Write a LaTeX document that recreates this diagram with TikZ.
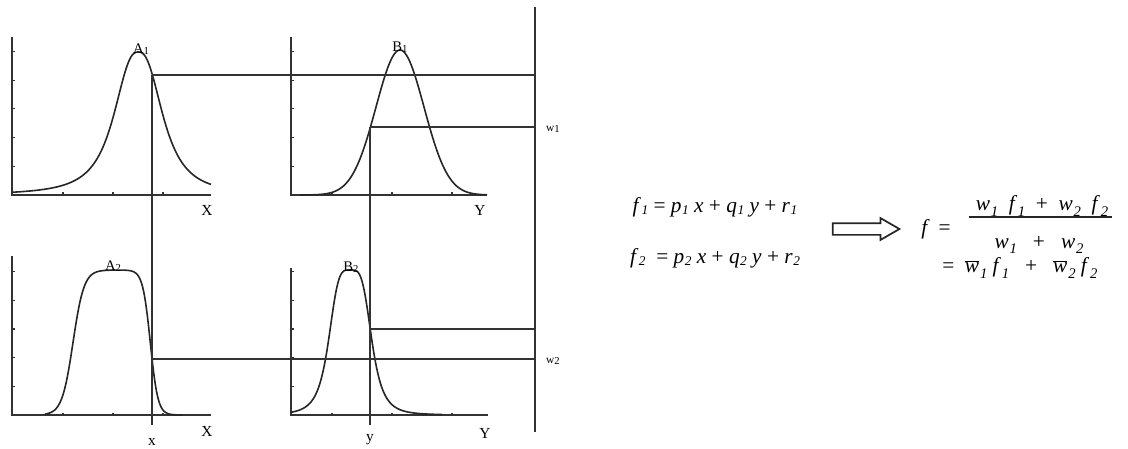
\documentclass[tikz,border=0pt]{standalone}
\usepackage{fontspec}
\setmainfont{Liberation Serif}
\usetikzlibrary{positioning,shapes.arrows}

\newcommand{\ssub}[1]{\raisebox{-0.25ex}{\fontsize{8}{8}\selectfont #1}}
\newcommand{\iv}[2]{\textit{#1}\kern0.4pt\raisebox{-0.25ex}{\fontsize{10}{10}\selectfont\textit{#2}}}
\newcommand{\lv}[2]{\textit{#1}\kern0.6pt\raisebox{-0.6ex}{\fontsize{11}{11}\selectfont\textit{#2}}}
\newcommand{\wb}[1]{$\overline{\mbox{\textit{w}}}$\kern0.6pt\raisebox{-0.6ex}{\fontsize{11}{11}\selectfont\textit{#1}}}

\begin{document}
\begin{tikzpicture}[x=0.75pt,y=-0.75pt,
    axis/.style={line width=0.9pt, black!80},
    curve/.style={line width=1.2pt, black!85},
    guide/.style={line width=0.9pt, black!80},
    setname/.style={font=\fontsize{11}{12}\selectfont, inner sep=0pt, anchor=south},
    varname/.style={font=\fontsize{11.5}{12}\selectfont, inner sep=0pt},
    wname/.style={font=\fontsize{8.5}{9}\selectfont, inner sep=0pt},
    eq/.style={font=\fontsize{16}{18}\selectfont, inner sep=0pt},
    fracbar/.style={line width=1pt, black!85},
    implies/.style={single arrow, draw=black!85, line width=1.3pt, minimum height=50pt, minimum width=15pt, inner sep=3.75pt, single arrow head extend=3.75pt, single arrow tip angle=60}
]
\useasboundingbox (0,0) rectangle (1128,449);

\foreach \ox/\oy/\yt/\xe/\ticks in {12/195/37/211/{63,113,163}, 291/195/37/487/{332,392,452}, 12/415/256/211/{63,113,163}, 291/415/268/488/{332,392,452}}{
  \draw[axis] (\ox,\yt) -- (\ox,\oy) -- (\xe,\oy);
  \foreach \k in {1,...,5} \draw[axis] (\ox,\oy-28.7*\k) -- ++(2.5,0);
  \foreach \t in \ticks \draw[axis] (\t,\oy) -- ++(0,-2.5);
}

\draw[curve] plot[domain=12:211, samples=160] (\x, {195-143/(1+pow(abs((\x-138.3)/27),2.55))});
\draw[curve] plot[domain=300:487, samples=120] (\x, {195-145*exp(-((\x-400)*(\x-400))/1152)});
\draw[curve] plot[domain=45:182, samples=140] (\x, {415-145/((1+exp(-(\x-73)/5.5))*(1+exp((\x-150.3)/3.8)))});
\draw[curve] plot[domain=292:442, samples=150] (\x, {415-145/(1+pow(abs((\x-350.2)/22),4))});

\coordinate (a1x) at (152,75);
\coordinate (b1y) at (370,127);
\coordinate (a2x) at (152,359);
\coordinate (b2y) at (370,329);
\coordinate (xfoot) at (152,425);
\coordinate (yfoot) at (370,425);
\coordinate (rtop) at (535,7);
\coordinate (rbot) at (535,432);

\draw[guide] (rtop) -- (rbot);
\draw[guide] (a1x) -- (xfoot);
\draw[guide] (b1y) -- (yfoot);
\draw[guide] (a1x) -- (a1x -| rtop);
\draw[guide] (b1y) -- (b1y -| rtop);
\draw[guide] (b2y) -- (b2y -| rtop);
\draw[guide] (a2x) -- (a2x -| rtop);

\node[setname] (A1) at (141,55) {A\ssub{1}};
\node[setname] (B1) at (400,53) {B\ssub{1}};
\node[setname] (A2) at (113,272) {A\ssub{2}};
\node[setname] (B2) at (351,273) {B\ssub{2}};

\node[varname] (X1) at (207,210) {X};
\node[varname] (Y1) at (480,210) {Y};
\node[varname] (X2) at (207,431) {X};
\node[varname] (Y2) at (485,433) {Y};
\node[varname] (xin) at (152,442) {x};
\node[varname] (yin) at (370,440) {y};
\node[wname] (w1) at (553,129) {w\ssub{1}};
\node[wname] (w2) at (553,361) {w\ssub{2}};

\node[eq] (f1) at (715,207) {\iv{f}{1} = \iv{p}{1} \textit{x} + \iv{q}{1} \textit{y} + \iv{r}{1}};
\node[eq] (f2) at (715,258) {\iv{f}{2}\ \ = \iv{p}{2} \textit{x} + \iv{q}{2} \textit{y} + \iv{r}{2}};
\node[implies] (arr) at (861,229) {};
\node[eq, anchor=west] (fdef) at (921,229) {\textit{f}\ \,=};
\node[eq] (num) at (1042,206) {\lv{w}{1}\ \ \lv{f}{1}\ \ +\ \ \lv{w}{2}\ \ \lv{f}{2}};
\node[eq] (den) at (1039,245) {\lv{w}{1}\ \ \ +\ \ \ \lv{w}{2}};
\coordinate (barl) at (969,217);
\coordinate (barr) at (1112,217);
\draw[fracbar] (barl) -- (barr);
\node[eq, anchor=west] (fbar) at (942,268) {=\ \ \wb{1}\ \lv{f}{1}\ \ \ +\ \ \ \wb{2}\ \lv{f}{2}};
\end{tikzpicture}
\end{document}
